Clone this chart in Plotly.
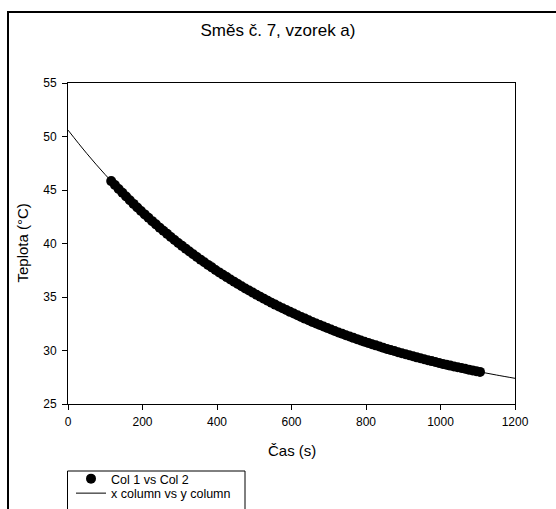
import plotly.graph_objects as go

time_s = [116, 126, 136, 146, 156, 166, 176, 186, 196, 206,
          216, 226, 236, 246, 256, 266, 276, 286, 296, 306,
          316, 326, 336, 346, 356, 366, 376, 386, 396, 406,
          416, 426, 436, 446, 456, 466, 476, 486, 496, 506,
          516, 526, 536, 546, 556, 566, 576, 586, 596, 606,
          616, 626, 636, 646, 656, 666, 676, 686, 696, 706,
          716, 726, 736, 746, 756, 766, 776, 786, 796, 806,
          816, 826, 836, 846, 856, 866, 876, 886, 896, 906,
          916, 926, 936, 946, 956, 966, 976, 986, 996, 1006,
          1016, 1026, 1036, 1046, 1056, 1066, 1076, 1086, 1096, 1106]
temp_c = [45.83, 45.46, 45.10, 44.74, 44.39, 44.04, 43.70, 43.37, 43.04, 42.72,
          42.40, 42.09, 41.79, 41.48, 41.19, 40.90, 40.61, 40.33, 40.05, 39.78,
          39.52, 39.25, 38.99, 38.74, 38.49, 38.25, 38.00, 37.77, 37.53, 37.30,
          37.08, 36.86, 36.64, 36.43, 36.21, 36.01, 35.80, 35.60, 35.41, 35.21,
          35.02, 34.84, 34.65, 34.47, 34.29, 34.12, 33.95, 33.78, 33.61, 33.45,
          33.29, 33.13, 32.98, 32.82, 32.67, 32.53, 32.38, 32.24, 32.10, 31.96,
          31.83, 31.69, 31.56, 31.43, 31.31, 31.18, 31.06, 30.94, 30.82, 30.71,
          30.59, 30.48, 30.37, 30.26, 30.15, 30.05, 29.95, 29.84, 29.75, 29.65,
          29.55, 29.46, 29.36, 29.27, 29.18, 29.09, 29.01, 28.92, 28.84, 28.75,
          28.67, 28.59, 28.51, 28.44, 28.36, 28.29, 28.21, 28.14, 28.07, 28.00]

# Fitted curve (x column vs y column)
fit_x = [0, 50, 100, 150, 200, 250, 300, 350, 400, 450, 500, 550, 600,
         650, 700, 750, 800, 850, 900, 950, 1000, 1050, 1100, 1150, 1200]
fit_y = [50.60, 48.43, 46.43, 44.60, 42.91, 41.37, 39.95, 38.64, 37.44, 36.34,
         35.33, 34.40, 33.55, 32.76, 32.04, 31.38, 30.78, 30.22, 29.71, 29.23,
         28.80, 28.41, 28.04, 27.71, 27.40]

x_ticks = [0, 200, 400, 600, 800, 1000, 1200]
y_ticks = [25, 30, 35, 40, 45, 50, 55]

title_text = "Směs č. 7, vzorek a)"
x_title = "Čas (s)"
y_title = "Teplota (°C)"
name_points = "Col 1 vs Col 2"
name_fit = "x column vs y column"

FONT = "Liberation Sans, Arial, sans-serif"
W, H = 556, 509
L, R, T, B = 68, 41, 83, 105
PW, PH = W - L - R, H - T - B


def px(xp):
    return (xp - L) / PW


def py(yp):
    return (H - B - yp) / PH


fig = go.Figure()
fig.add_trace(go.Scatter(
    x=fit_x, y=fit_y, mode="lines", name=name_fit,
    line=dict(color="black", width=1, shape="spline"),
    legend="legend2",
))
fig.add_trace(go.Scatter(
    x=time_s, y=temp_c, mode="markers", name=name_points,
    marker=dict(color="black", size=10, line=dict(width=0)),
    legend="legend",
))

axis_common = dict(
    showline=True, linecolor="black", linewidth=1, mirror=True,
    ticks="outside", ticklen=5, tickcolor="black", tickwidth=1,
    showgrid=False, zeroline=False,
    tickfont=dict(family=FONT, size=12, color="black"),
)

fig.update_layout(
    width=W, height=H,
    margin=dict(l=L, r=R, t=T, b=B, autoexpand=False),
    paper_bgcolor="white", plot_bgcolor="white",
    showlegend=True,
    title=dict(text=title_text, x=px((L + W - R) / 2), xanchor="center",
               y=(H - 30) / H, yanchor="middle",
               font=dict(family=FONT, size=17, color="black")),
    xaxis=dict(range=[0, 1200], tickvals=x_ticks, ticklabelstandoff=2,
               **axis_common),
    yaxis=dict(range=[25, 55], tickvals=y_ticks, ticklabelstandoff=3,
               **axis_common),
    legend=dict(x=px(71), y=py(464), xanchor="left", yanchor="top",
                bgcolor="rgba(0,0,0,0)", borderwidth=0,
                font=dict(family=FONT, size=12.5, color="black")),
    legend2=dict(x=px(71), y=py(478.5), xanchor="left", yanchor="top",
                 bgcolor="rgba(0,0,0,0)", borderwidth=0,
                 font=dict(family=FONT, size=12.5, color="black")),
    annotations=[
        dict(text=x_title, xref="paper", yref="paper", x=0.5, y=py(450.7),
             xanchor="center", yanchor="middle", showarrow=False,
             font=dict(family=FONT, size=15, color="black")),
        dict(text=y_title, xref="paper", yref="paper", x=px(22), y=0.5,
             xanchor="center", yanchor="middle", textangle=-90, showarrow=False,
             font=dict(family=FONT, size=15, color="black")),
    ],
    shapes=[
        dict(type="rect", xref="paper", yref="paper",
             x0=px(8), y0=py(530), x1=px(575), y1=py(12),
             line=dict(color="black", width=2), fillcolor="rgba(0,0,0,0)"),
        dict(type="rect", xref="paper", yref="paper",
             x0=px(67.5), y0=py(530), x1=px(245), y1=py(471),
             line=dict(color="black", width=1), fillcolor="rgba(0,0,0,0)"),
    ],
)

fig.write_html("out.html")
